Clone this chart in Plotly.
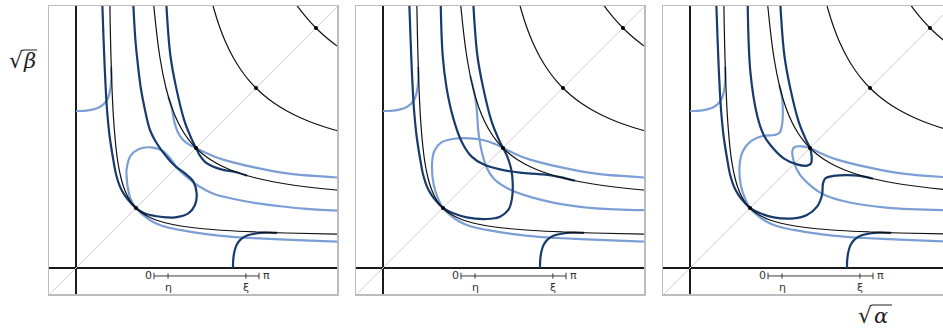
import plotly.graph_objects as go

# ---------------- data (panel units: diagonal dots at 1,2,3,4) ----------------
# black level curves (shared by all panels)
k1_x = [0.562, 0.57, 0.583, 0.6, 0.625, 0.667, 0.7, 0.75, 0.8, 0.857, 0.917, 1.0, 1.1, 1.2, 1.333, 1.5, 1.75, 2.0, 2.5, 3.0, 3.5, 4.5]
k1_y = [4.53, 4.07, 3.51, 3.0, 2.5, 2.0, 1.75, 1.5, 1.333, 1.2, 1.1, 1.0, 0.917, 0.857, 0.8, 0.75, 0.7, 0.667, 0.625, 0.6, 0.583, 0.562]
k2_x = [1.22, 1.25, 1.3, 1.4, 1.5, 1.6, 1.7, 1.8, 1.9, 2.0, 2.111, 2.25, 2.429, 2.667, 3.0, 3.5, 4.333, 5.0]
k2_y = [5.55, 5.0, 4.333, 3.5, 3.0, 2.667, 2.429, 2.25, 2.111, 2.0, 1.9, 1.8, 1.7, 1.6, 1.5, 1.4, 1.3, 1.25]
k3_x = [2.2, 2.3, 2.4, 2.5, 2.625, 2.75, 2.875, 3.0, 3.136, 3.3, 3.5, 3.75, 4.0, 4.313, 4.714]
k3_y = [4.714, 4.313, 4.0, 3.75, 3.5, 3.3, 3.136, 3.0, 2.875, 2.75, 2.625, 2.5, 2.4, 2.3, 2.2]
k4_x = [3.5, 3.6, 3.7, 3.8, 3.9, 4.0, 4.105, 4.222, 4.353, 4.5, 4.667]
k4_y = [4.667, 4.5, 4.353, 4.222, 4.105, 4.0, 3.9, 3.8, 3.7, 3.6, 3.5]
dots_x = [1, 2, 3, 4]
dots_y = [1, 2, 3, 4]
diag = [-0.6, 4.6]

# dark blue, shared pieces
left_x = [0.435, 0.46, 0.48, 0.5, 0.52, 0.56, 0.622, 0.67, 0.733, 0.8, 0.872, 1.0]
left_y = [4.5, 3.8, 3.3, 2.9, 2.6, 2.2, 1.8, 1.55, 1.356, 1.23, 1.133, 1.0]
d_x = [2.617, 2.62, 2.64, 2.68, 2.75, 2.85, 3.0, 3.15, 3.35]
d_y = [0.0, 0.13, 0.27, 0.39, 0.48, 0.54, 0.575, 0.588, 0.587]
# light blue, shared pieces
leftL_x = [4.5, 3.8, 3.3, 2.9, 2.6, 2.2, 1.8, 1.55, 1.356, 1.23, 1.133, 1.0]
leftL_y = [0.435, 0.46, 0.48, 0.5, 0.52, 0.56, 0.622, 0.67, 0.733, 0.8, 0.872, 1.0]
dL_x = [0.0, 0.13, 0.27, 0.39, 0.48, 0.54, 0.575, 0.588, 0.587]
dL_y = [2.617, 2.62, 2.64, 2.68, 2.75, 2.85, 3.0, 3.15, 3.35]

# panel 1
a1_x = [1.15, 1.317, 1.5, 1.65, 1.872, 1.983, 2.011, 1.956, 1.817, 1.678, 1.6, 1.53, 1.42, 1.32, 1.233, 1.15, 1.08, 1.03, 0.99, 0.95]
a1_y = [0.91, 0.867, 0.845, 0.844, 0.911, 1.05, 1.244, 1.439, 1.578, 1.678, 1.75, 1.83, 1.97, 2.12, 2.3, 2.633, 3.0, 3.4, 3.8, 4.5]
c1_x = [1.5, 1.572, 1.672, 1.811, 1.922, 2.0, 2.06, 2.15, 2.28, 2.45, 2.65, 2.85]
c1_y = [4.5, 3.55, 2.994, 2.439, 2.161, 2.0, 1.88, 1.77, 1.69, 1.635, 1.6, 1.54]
a1L_x = [0.91, 0.867, 0.845, 0.844, 0.911, 1.05, 1.244, 1.439, 1.578, 1.678, 1.75, 1.83, 1.97, 2.12, 2.3, 2.633, 3.0, 3.4, 3.8, 4.5]
a1L_y = [1.15, 1.317, 1.5, 1.65, 1.872, 1.983, 2.011, 1.956, 1.817, 1.678, 1.6, 1.53, 1.42, 1.32, 1.233, 1.15, 1.08, 1.03, 0.99, 0.95]
c1L_x = [4.5, 3.55, 2.994, 2.439, 2.161, 2.0, 1.88, 1.77, 1.69, 1.635, 1.6, 1.54]
c1L_y = [1.5, 1.572, 1.672, 1.811, 1.922, 2.0, 2.06, 2.15, 2.28, 2.45, 2.65, 2.85]

# panel 2
a2_x = [1.172, 1.394, 1.728, 1.95, 2.089, 2.15, 2.161, 2.133, 2.072, 2.0, 1.922, 1.811, 1.672, 1.572, 1.5]
a2_y = [0.911, 0.844, 0.817, 0.856, 0.967, 1.161, 1.439, 1.661, 1.856, 2.0, 2.161, 2.439, 2.994, 3.55, 4.5]
c2_x = [0.96, 0.994, 1.061, 1.172, 1.311, 1.478, 1.672, 1.95, 2.283, 2.672, 2.95, 3.2]
c2_y = [4.5, 3.55, 2.994, 2.494, 2.106, 1.856, 1.728, 1.644, 1.589, 1.56, 1.515, 1.455]
a2L_x = [0.911, 0.844, 0.817, 0.856, 0.967, 1.161, 1.439, 1.661, 1.856, 2.0, 2.161, 2.439, 2.994, 3.55, 4.5]
a2L_y = [1.172, 1.394, 1.728, 1.95, 2.089, 2.15, 2.161, 2.133, 2.072, 2.0, 1.922, 1.811, 1.672, 1.572, 1.5]
c2L_x = [4.5, 3.55, 2.994, 2.494, 2.106, 1.856, 1.728, 1.644, 1.589, 1.56, 1.515, 1.455]
c2L_y = [0.96, 0.994, 1.061, 1.172, 1.311, 1.478, 1.672, 1.95, 2.283, 2.672, 2.95, 3.2]

# panel 3
a3_x = [1.172, 1.394, 1.728, 1.95, 2.117, 2.2, 2.217, 2.256, 2.394, 2.617, 2.833, 3.05]
a3_y = [0.911, 0.844, 0.828, 0.883, 1.022, 1.217, 1.411, 1.494, 1.535, 1.548, 1.535, 1.488]
c3_x = [0.96, 1.006, 1.117, 1.228, 1.339, 1.561, 1.783, 1.95, 2.017, 2.028, 2.0, 1.922, 1.811, 1.672, 1.572, 1.5]
c3_y = [4.5, 3.272, 2.55, 2.217, 2.05, 1.828, 1.728, 1.706, 1.744, 1.856, 2.0, 2.161, 2.439, 2.994, 3.55, 4.5]
a3L_x = [0.911, 0.844, 0.828, 0.883, 1.022, 1.217, 1.411, 1.494, 1.535, 1.548, 1.535, 1.488]
a3L_y = [1.172, 1.394, 1.728, 1.95, 2.117, 2.2, 2.217, 2.256, 2.394, 2.617, 2.833, 3.05]
c3L_x = [4.5, 3.272, 2.55, 2.217, 2.05, 1.828, 1.728, 1.706, 1.744, 1.856, 2.0, 2.161, 2.439, 2.994, 3.55, 4.5]
c3L_y = [0.96, 1.006, 1.117, 1.228, 1.339, 1.561, 1.783, 1.95, 2.017, 2.028, 2.0, 1.922, 1.811, 1.672, 1.572, 1.5]

# scale bar
scale_vals = [0.0, 0.42, 2.75, 3.1416]
scale_labels = ["0", "η", "ξ", "π"]

# ---------------- styling / layout ----------------
W, H = 943, 329
DARK = "#173b6c"
LIGHT = "#7b9fd4"
FRAME = "#bcbcbc"


def px(X):
    return X / W


def py(Y):
    return 1 - Y / H


panels = [
    dict(dark=[(left_x + a1_x, left_y + a1_y), (c1_x, c1_y)],
         light=[(leftL_x + a1L_x, leftL_y + a1L_y), (c1L_x, c1L_y)],
         px0=49, px1=337),
    dict(dark=[(left_x + a2_x, left_y + a2_y), (c2_x, c2_y)],
         light=[(leftL_x + a2L_x, leftL_y + a2L_y), (c2L_x, c2L_y)],
         px0=356, px1=644),
    dict(dark=[(left_x + a3_x, left_y + a3_y), (c3_x, c3_y)],
         light=[(leftL_x + a3L_x, leftL_y + a3L_y), (c3L_x, c3L_y)],
         px0=663, px1=951),
]

UNIT = 60.0
fig = go.Figure()
layout = dict(width=W, height=H, margin=dict(l=0, r=0, t=0, b=0),
              paper_bgcolor="white", plot_bgcolor="white", showlegend=False)
annotations = []
shapes = []
ydom = [py(294), py(6)]

bar_x0 = 1.3
bar_len = 1.75
bar_y = -0.133

for i, p in enumerate(panels):
    n = "" if i == 0 else str(i + 1)
    xa, ya = "x" + n, "y" + n
    px1 = min(p["px1"], W)
    xmin = -27 / UNIT
    xmax = xmin + (px1 - p["px0"]) / UNIT
    layout["xaxis" + n] = dict(domain=[px(p["px0"]), min(px(px1), 1.0)], range=[xmin, xmax],
                               showgrid=False, showticklabels=False, ticks="",
                               zeroline=True, zerolinecolor="#1a1a1a", zerolinewidth=1.1,
                               showline=True, mirror=True, linecolor=FRAME, linewidth=1.5,
                               anchor=ya, fixedrange=True)
    layout["yaxis" + n] = dict(domain=ydom, range=[-26 / UNIT, 262 / UNIT],
                               showgrid=False, showticklabels=False, ticks="",
                               zeroline=True, zerolinecolor="#1a1a1a", zerolinewidth=1.1,
                               showline=True, mirror=(i < 2), linecolor=FRAME, linewidth=1.5,
                               anchor=xa, fixedrange=True)

    def add(x, y, color, width, shape="spline", mode="lines", **kw):
        fig.add_trace(go.Scatter(x=x, y=y, mode=mode, xaxis=xa, yaxis=ya,
                                 line=dict(color=color, width=width, shape=shape),
                                 hoverinfo="skip", **kw))

    add(diag, diag, "#d2d2d2", 1, shape="linear")
    add(dL_x, dL_y, LIGHT, 2.2)
    for (x, y) in p["light"]:
        add(x, y, LIGHT, 2.2)
    add(d_x, d_y, DARK, 2.2)
    for (x, y) in p["dark"]:
        add(x, y, DARK, 2.2)
    for (x, y) in [(k1_x, k1_y), (k2_x, k2_y), (k3_x, k3_y), (k4_x, k4_y)]:
        add(x, y, "#111111", 1.2)
    fig.add_trace(go.Scatter(x=dots_x, y=dots_y, mode="markers", xaxis=xa, yaxis=ya,
                             marker=dict(color="black", size=4), hoverinfo="skip"))

    # scale bar 0 .. pi
    sx = [bar_x0 + v / 3.1416 * bar_len for v in scale_vals]
    bx, by = [sx[0], sx[-1], None], [bar_y, bar_y, None]
    for j, v in enumerate(sx):
        h = 0.055 if j in (0, len(sx) - 1) else 0.045
        bx += [v, v, None]
        by += [bar_y - h, bar_y + h, None]
    add(bx, by, "#3a3a3a", 1, shape="linear")
    for j, lab in enumerate(scale_labels):
        if j == 0:
            ax_, ay_ = sx[0] - 0.1, bar_y
        elif j == len(sx) - 1:
            ax_, ay_ = sx[-1] + 0.13, bar_y
        else:
            ax_, ay_ = sx[j], bar_y - 0.2
        annotations.append(dict(x=ax_, y=ay_, xref=xa, yref=ya, text=lab, showarrow=False,
                                font=dict(size=11, color="#333333", family="DejaVu Sans"),
                                xanchor="center", yanchor="middle"))

# axis labels: radical sign as text, vinculum as a thin line
# (radical centre x, centre y, symbol, symbol centre x, vinculum x0, vinculum x1)
for (rx, ry, sym, sxc, v0, v1) in [(16, 60, "β", 30, 22.5, 37), (865, 315, "α", 881, 871.5, 892)]:
    annotations.append(dict(x=px(rx), y=py(ry), xref="paper", yref="paper",
                            text="√", showarrow=False,
                            font=dict(size=22, color="#222222", family="DejaVu Sans"),
                            xanchor="center", yanchor="middle"))
    annotations.append(dict(x=px(sxc), y=py(ry + 1), xref="paper", yref="paper",
                            text="<i>" + sym + "</i>", showarrow=False,
                            font=dict(size=21, color="#222222", family="DejaVu Serif"),
                            xanchor="center", yanchor="middle"))
    shapes.append(dict(type="line", xref="paper", yref="paper",
                       x0=px(v0), x1=px(v1), y0=py(ry - 10), y1=py(ry - 10),
                       line=dict(color="#222222", width=1)))

layout["annotations"] = annotations
layout["shapes"] = shapes
fig.update_layout(**layout)
fig.write_html("out.html", config={"displayModeBar": False, "staticPlot": True},
               post_script="document.body.style.margin='0';document.body.style.overflow='hidden';")
